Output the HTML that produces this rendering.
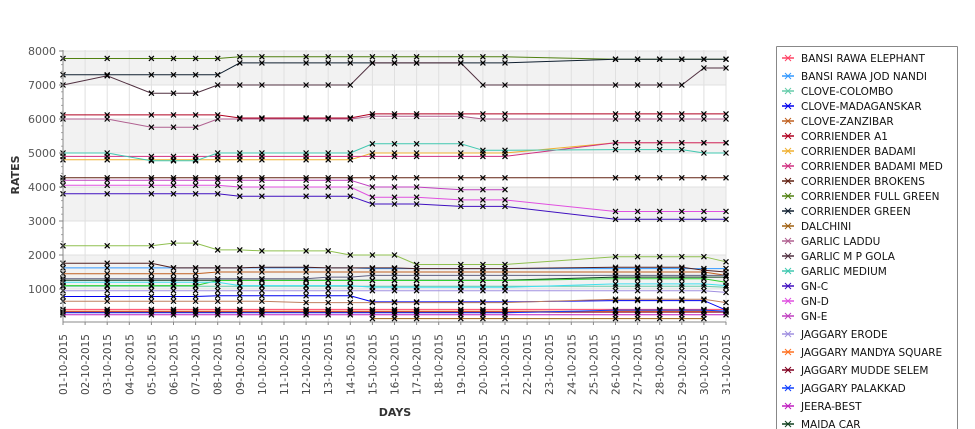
<!DOCTYPE html>
<html><head><meta charset="utf-8"><style>
html,body{margin:0;padding:0;background:#fff;width:975px;height:429px;overflow:hidden;}
svg{display:block;overflow:hidden;font-family:"DejaVu Sans","Liberation Sans",sans-serif;}
</style></head><body>
<svg id="chart" width="975" height="429" viewBox="0 0 975 429" xmlns="http://www.w3.org/2000/svg">
<g id="plot-bg"></g>
<g id="grid"></g>
<g id="series"></g>
<g id="axes"></g>
<text x="19" y="175" transform="rotate(-90 19 175)" text-anchor="middle" font-size="11" font-weight="bold" fill="#333">RATES</text>
<text x="395" y="416" text-anchor="middle" font-size="11" font-weight="bold" fill="#333">DAYS</text>
<g>
<line x1="776.5" y1="46.5" x2="957.5" y2="46.5" stroke="#888"/>
<line x1="776.5" y1="46.5" x2="776.5" y2="429" stroke="#888"/>
<line x1="957.5" y1="46.5" x2="957.5" y2="429" stroke="#888"/>
</g>
<g id="legend"></g>
</svg>
<script>
const dayLabels = ["01-10-2015","02-10-2015","03-10-2015","04-10-2015","05-10-2015","06-10-2015","07-10-2015","08-10-2015","09-10-2015","10-10-2015","11-10-2015","12-10-2015","13-10-2015","14-10-2015","15-10-2015","16-10-2015","17-10-2015","18-10-2015","19-10-2015","20-10-2015","21-10-2015","22-10-2015","23-10-2015","24-10-2015","25-10-2015","26-10-2015","27-10-2015","28-10-2015","29-10-2015","30-10-2015","31-10-2015"];
const dataDays = [1,3,5,6,7,8,9,10,12,13,14,15,16,17,19,20,21,26,27,28,29,30,31];
const yTicks = [1000,2000,3000,4000,5000,6000,7000,8000];
const seriesNames = ["BANSI RAWA ELEPHANT","BANSI RAWA JOD NANDI","CLOVE-COLOMBO","CLOVE-MADAGANSKAR","CLOVE-ZANZIBAR","CORRIENDER A1","CORRIENDER BADAMI","CORRIENDER BADAMI MED","CORRIENDER BROKENS","CORRIENDER FULL GREEN","CORRIENDER GREEN","DALCHINI","GARLIC LADDU","GARLIC M P GOLA","GARLIC MEDIUM","GN-C","GN-D","GN-E","JAGGARY ERODE","JAGGARY MANDYA SQUARE","JAGGARY MUDDE SELEM","JAGGARY PALAKKAD","JEERA-BEST","MAIDA CAR","MOONG DAL","RAVA","SUGAR","TUR DAL","URAD DAL","CHANA DAL"];
const seriesColors = ["#ff4466","#3399ff","#66ccaa","#0000ee","#c06020","#b00020","#f0b030","#d03080","#602010","#508010","#102030","#a06010","#b06090","#503040","#40c8b0","#4010c0","#e050e0","#c040c0","#a090e0","#ff7020","#800020","#1040ff","#c020c0","#104020","#90c050","#552222","#30d030","#606080","#40e0f0","#c08060"];
const s0 = [400,400,400,400,400,400,400,400,400,400,400,400,400,400,400,400,400,400,400,400,400,400,400];
const s1 = [1620,1620,1620,1620,1620,1620,1620,1620,1620,1620,1620,1600,1600,1600,1600,1600,1600,1600,1600,1600,1600,1600,1600];
const s2 = [1080,1080,1080,1080,1080,1080,1080,1080,1080,1080,1080,1080,1080,1080,1080,1080,1080,1080,1080,1080,1080,1080,1050];
const s3 = [780,780,780,780,780,800,800,800,800,800,800,620,620,620,620,620,620,660,660,660,660,660,380];
const s4 = [1450,1450,1450,1450,1450,1500,1500,1500,1500,1500,1500,1500,1500,1500,1500,1500,1500,1500,1500,1500,1500,1500,1400];
const s5 = [6120,6120,6120,6120,6120,6120,6030,6030,6030,6030,6030,6150,6150,6150,6150,6150,6150,6150,6150,6150,6150,6150,6150];
const s6 = [4800,4800,4800,4800,4800,4800,4800,4800,4800,4800,4800,5000,5000,5000,5000,5000,5000,5300,5300,5300,5300,5300,5300];
const s7 = [4900,4900,4900,4900,4900,4900,4900,4900,4900,4900,4900,4900,4900,4900,4900,4900,4900,5300,5300,5300,5300,5300,5300];
const s8 = [4270,4270,4270,4270,4270,4270,4270,4270,4270,4270,4270,4270,4270,4270,4270,4270,4270,4270,4270,4270,4270,4270,4270];
const s9 = [7780,7780,7780,7780,7780,7780,7830,7830,7830,7830,7830,7830,7830,7830,7830,7830,7830,7760,7760,7760,7760,7760,7760];
const s10 = [7300,7300,7300,7300,7300,7300,7650,7650,7650,7650,7650,7650,7650,7650,7650,7650,7650,7760,7760,7760,7760,7760,7760];
const s11 = [null,null,null,null,null,null,null,null,null,null,null,130,130,130,130,130,130,130,130,130,130,130,null];
const s12 = [6000,6000,5760,5760,5760,6000,6000,6000,6000,6000,6000,6080,6080,6080,6080,6000,6000,6000,6000,6000,6000,6000,6000];
const s13 = [7000,7270,6760,6760,6760,7000,7000,7000,7000,7000,7000,7650,7650,7650,7650,7000,7000,7000,7000,7000,7000,7500,7500];
const s14 = [5000,5000,4770,4770,4770,5000,5000,5000,5000,5000,5000,5270,5270,5270,5270,5080,5080,5100,5100,5100,5100,5000,5000];
const s15 = [3800,3800,3800,3800,3800,3800,3730,3730,3730,3730,3730,3500,3500,3500,3430,3430,3430,3050,3050,3050,3050,3050,3050];
const s16 = [4050,4050,4050,4050,4050,4050,4000,4000,4000,4000,4000,3700,3700,3700,3620,3620,3620,3280,3280,3280,3280,3280,3280];
const s17 = [4200,4200,4200,4200,4200,4200,4200,4200,4200,4200,4200,4000,4000,4000,3920,3920,3920,null,null,null,null,null,null];
const s18 = [950,950,950,950,950,950,950,950,950,950,950,950,950,950,950,950,950,950,950,950,950,950,900];
const s19 = [350,350,350,350,350,350,350,350,350,350,350,350,350,350,350,350,350,350,350,350,350,350,350];
const s20 = [320,320,320,320,320,320,320,320,320,320,320,320,320,320,320,320,320,320,320,320,320,320,320];
const s21 = [300,300,300,300,300,300,300,300,300,300,300,300,300,300,300,300,300,380,380,380,380,380,350];
const s22 = [240,240,240,240,240,240,240,240,240,240,240,240,240,240,240,240,240,240,240,240,240,240,240];
const s23 = [1260,1260,1260,1260,1260,1260,1260,1260,1260,1260,1260,1260,1260,1260,1260,1260,1260,1350,1350,1350,1350,1350,1350];
const s24 = [2270,2270,2270,2350,2350,2150,2150,2120,2120,2120,2000,2000,2000,1720,1720,1720,1720,1950,1950,1950,1950,1950,1800];
const s25 = [1760,1760,1760,1620,1620,1620,1620,1640,1640,1620,1620,1620,1620,1600,1600,1600,1600,1640,1640,1640,1640,1550,1500];
const s26 = [1100,1100,1100,1100,1100,1250,1250,1250,1250,1250,1250,1250,1250,1250,1250,1250,1250,1300,1300,1300,1300,1300,1200];
const s27 = [1300,1300,1300,1300,1300,1300,1300,1300,1300,1350,1350,1400,1400,1400,1400,1400,1400,1400,1400,1400,1400,1400,1400];
const s28 = [1200,1200,1200,1200,1200,1200,1100,1100,1100,1100,1100,1050,1050,1050,1050,1050,1050,1150,1150,1150,1150,1150,1100];
const s29 = [640,640,640,640,640,640,640,640,600,600,600,600,600,600,600,600,600,700,700,700,700,700,600];
const seriesValues = [s0,s1,s2,s3,s4,s5,s6,s7,s8,s9,s10,s11,s12,s13,s14,s15,s16,s17,s18,s19,s20,s21,s22,s23,s24,s25,s26,s27,s28,s29];

const NS="http://www.w3.org/2000/svg";
const L=63, R=726, T=50, B=322;
function xDay(d){return L+(d-1)*(R-L)/30;}
function yVal(v){return 323-v*0.034;}
function mk(tag,attrs,parent){const e=document.createElementNS(NS,tag);for(const k in attrs)e.setAttribute(k,attrs[k]);parent.appendChild(e);return e;}
const bg=document.getElementById('plot-bg'), grid=document.getElementById('grid'), ser=document.getElementById('series'), axes=document.getElementById('axes'), leg=document.getElementById('legend');
mk('rect',{x:L,y:T,width:R-L,height:B-T,fill:'#fff'},bg);
for(let v=0;v<8000;v+=1000){
  if((v/1000)%2===1){
    const r=mk('rect',{x:L,y:yVal(v+1000),width:R-L,height:yVal(v)-yVal(v+1000),fill:'#f2f2f2'},bg);
    
    
  }
}
for(let i=0;i<dayLabels.length;i++){
  const x=xDay(i+1);
  const g=mk('line',{x1:x,x2:x,y1:T,y2:B,stroke:'#e0e0e0','stroke-width':1},grid);
  
  
  const t=mk('text',{x:x+4,y:334,transform:`rotate(-90 ${x+4} 334)`,'text-anchor':'end','font-size':'10.5',fill:'#444'},axes);
  t.textContent=dayLabels[i];
  
  
  mk('line',{x1:x,x2:x,y1:B,y2:B+3,stroke:'#888'},axes);
}
for(const v of yTicks){
  const y=yVal(v);
  const g=mk('line',{x1:L,x2:R,y1:y,y2:y,stroke:'#e0e0e0','stroke-width':1},grid);
  
  
  const t=mk('text',{x:56,y:y+4,'text-anchor':'end','font-size':'11',fill:'#555'},axes);
  t.textContent=String(v);
  
  
  mk('line',{x1:L-4,x2:L,y1:y,y2:y,stroke:'#888'},axes);
}
for(let v=200;v<8000;v+=200){ if(v%1000) mk('line',{x1:L-2,x2:L,y1:yVal(v),y2:yVal(v),stroke:'#aaa'},axes); }
mk('line',{x1:L,x2:L,y1:T,y2:B,stroke:'#888'},axes);
mk('line',{x1:L,x2:R,y1:B,y2:B,stroke:'#888'},axes);

function cross(x,y,p){mk('path',{d:`M${x-2.5} ${y-2.5}L${x+2.5} ${y+2.5}M${x-2.5} ${y+2.5}L${x+2.5} ${y-2.5}`,stroke:'#000','stroke-width':1.2},p);}
for(let s=0;s<seriesValues.length;s++){
  const vals=seriesValues[s];
  const g=mk('g',{},ser);
  
  
  let d='';let pen=false;
  for(let i=0;i<dataDays.length;i++){
    if(vals[i]==null){pen=false;continue;}
    d+=(pen?'L':'M')+xDay(dataDays[i]).toFixed(1)+' '+yVal(vals[i]).toFixed(1);pen=true;
  }
  mk('path',{d:d,fill:'none',stroke:seriesColors[s],'stroke-width':1},g);
  for(let i=0;i<dataDays.length;i++){ if(vals[i]!=null) cross(xDay(dataDays[i]),yVal(vals[i]),g); }
}
let ly=58;
for(let s=0;s<seriesNames.length;s++){
  if(ly>425) break;
  const g=mk('g',{},leg);
  
  
  mk('line',{x1:782,x2:794,y1:ly,y2:ly,stroke:seriesColors[s],'stroke-width':1.5},g);
  mk('path',{d:`M${785} ${ly-3}L${791} ${ly+3}M${785} ${ly+3}L${791} ${ly-3}`,stroke:seriesColors[s],'stroke-width':1},g);
  const t=mk('text',{x:801,y:ly+4,'font-size':'10.5',fill:'#111'},g);
  t.textContent=seriesNames[s];
  ly += (s===0)?18:(s<17?15:18);
}
</script>
</body></html>
